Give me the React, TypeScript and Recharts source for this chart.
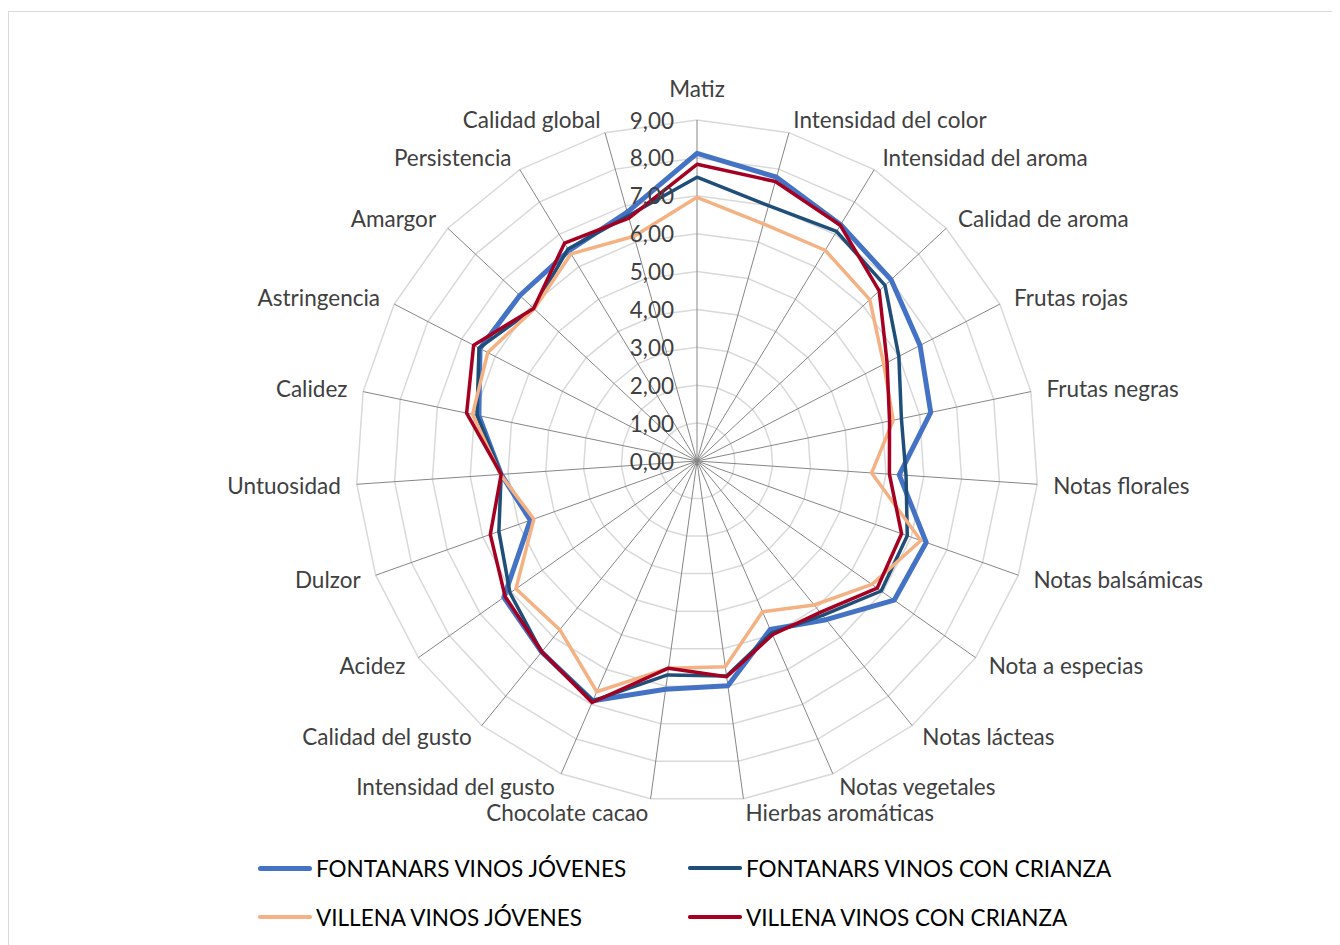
import { RadarChart, Radar, PolarGrid, PolarAngleAxis, PolarRadiusAxis } from 'recharts'

const categories = [
  'Matiz',
  'Intensidad del color',
  'Intensidad del aroma',
  'Calidad de aroma',
  'Frutas rojas',
  'Frutas negras',
  'Notas florales',
  'Notas balsámicas',
  'Nota a especias',
  'Notas lácteas',
  'Notas vegetales',
  'Hierbas aromáticas',
  'Chocolate cacao',
  'Intensidad del gusto',
  'Calidad del gusto',
  'Acidez',
  'Dulzor',
  'Untuosidad',
  'Calidez',
  'Astringencia',
  'Amargor',
  'Persistencia',
  'Calidad global',
]

const fontanarsJovenes = [8.12, 7.78, 7.3, 7.01, 6.63, 6.3, 5.35, 6.42, 6.37, 5.4, 4.85, 5.99, 6.08, 6.9, 6.5, 6.24, 4.67, 5.18, 5.88, 6.45, 6.4, 6.5, 6.82]
const fontanarsCrianza = [7.49, 7.0, 7.09, 6.79, 6.0, 5.51, 5.53, 5.89, 5.95, 5.25, 4.95, 5.73, 5.7, 6.9, 6.5, 6.04, 5.55, 5.18, 5.93, 6.48, 5.9, 6.55, 6.72]
const villenaJovenes = [6.96, 6.5, 6.51, 6.24, 5.55, 5.29, 4.62, 6.27, 5.65, 4.9, 4.34, 5.48, 5.52, 6.64, 5.74, 5.85, 4.57, 5.2, 6.05, 6.22, 5.88, 6.4, 6.16]
const villenaCrianza = [7.83, 7.66, 7.28, 6.58, 5.65, 5.19, 5.09, 5.73, 5.82, 5.15, 5.0, 5.75, 5.52, 6.95, 6.49, 6.2, 5.79, 5.18, 6.21, 6.64, 5.9, 6.73, 6.66]

const radiusTicks = [0, 1, 2, 3, 4, 5, 6, 7, 8, 9]

const series = [
  { key: 'fj', name: 'FONTANARS VINOS JÓVENES', values: fontanarsJovenes, color: '#4472C4', width: 5 },
  { key: 'fc', name: 'FONTANARS VINOS CON CRIANZA', values: fontanarsCrianza, color: '#1F4E79', width: 3.5 },
  { key: 'vj', name: 'VILLENA VINOS JÓVENES', values: villenaJovenes, color: '#F4B183', width: 3.5 },
  { key: 'vc', name: 'VILLENA VINOS CON CRIANZA', values: villenaCrianza, color: '#A50021', width: 3.5 },
]

const data = categories.map((name, i) => {
  const row: { [k: string]: string | number } = { name }
  series.forEach((s) => {
    row[s.key] = s.values[i]
  })
  return row
})

const CX = 688
const CY = 449
const R = 341
const FONT = 'Lato, "Open Sans", sans-serif'
const FS = 22.5

function AngleTick(props: any) {
  const { payload } = props
  const a = (payload.coordinate * Math.PI) / 180
  const s = Math.cos(a) // sin of clockwise angle from top
  const c = Math.sin(a) // cos of clockwise angle from top
  const ex = CX + R * s
  const ey = CY - R * c
  let x = ex + 16 * s
  let y = ey - 14 * c
  let anchor: 'start' | 'end' | 'middle' = s > 0 ? 'start' : 'end'
  if (Math.abs(s) < 0.01) {
    anchor = 'middle'
    x = ex
    y = ey - 32 * Math.sign(c)
  }
  return (
    <text x={x} y={y} textAnchor={anchor} dominantBaseline="central" fontFamily={FONT} fontSize={FS} fill="#404040">
      {payload.value}
    </text>
  )
}

function RadiusTick(props: any) {
  const { x, y, payload } = props
  return (
    <text x={x - 23} y={y} textAnchor="end" dominantBaseline="central" fontFamily={FONT} fontSize={FS} fill="#404040">
      {Number(payload.value).toFixed(2).replace('.', ',')}
    </text>
  )
}

function LegendBox() {
  const cols = [249, 679]
  const rows = [856, 905]
  return (
    <>
      {series.map((s, i) => (
        <div
          key={s.key}
          style={{
            position: 'absolute',
            left: cols[i % 2],
            top: rows[Math.floor(i / 2)] - 14,
            height: 28,
            display: 'flex',
            alignItems: 'center',
            fontFamily: FONT,
            fontSize: FS,
            color: '#000',
            whiteSpace: 'nowrap',
          }}
        >
          <span
            style={{
              display: 'inline-block',
              width: 54,
              height: s.width,
              background: s.color,
              borderRadius: s.width / 2,
              marginRight: 4,
            }}
          />
          {s.name}
        </div>
      ))}
    </>
  )
}

export default function App() {
  return (
    <div
      style={{
        position: 'relative',
        marginTop: 3,
        width: 1332,
        height: 934,
        boxSizing: 'border-box',
        borderLeft: '1px solid #d9d9d9',
        borderTop: '1px solid #d9d9d9',
        background: '#fff',
      }}
    >
      <RadarChart
        width={1331}
        height={933}
        data={data}
        cx={CX}
        cy={CY}
        outerRadius={R}
        startAngle={90}
        endAngle={-270}
        margin={{ top: 0, right: 0, bottom: 0, left: 0 }}
      >
        <PolarGrid gridType="polygon" radialLines={false} stroke="#d9d9d9" strokeWidth={1.5} />
        <PolarGrid gridType="polygon" polarRadius={[]} stroke="#868686" strokeWidth={1} />
        <PolarAngleAxis dataKey="name" axisLine={false} tickLine={false} tick={<AngleTick />} />
        <PolarRadiusAxis
          angle={90}
          domain={[0, 9]}
          ticks={radiusTicks as any}
          tickCount={10}
          axisLine={false}
          tickLine={false}
          tick={<RadiusTick />}
        />
        {series.map((s) => (
          <Radar
            key={s.key}
            name={s.name}
            dataKey={s.key}
            stroke={s.color}
            strokeWidth={s.width}
            strokeLinejoin="round"
            fill="none"
            fillOpacity={0}
            dot={false}
            isAnimationActive={false}
          />
        ))}
      </RadarChart>
      <LegendBox />
    </div>
  )
}
